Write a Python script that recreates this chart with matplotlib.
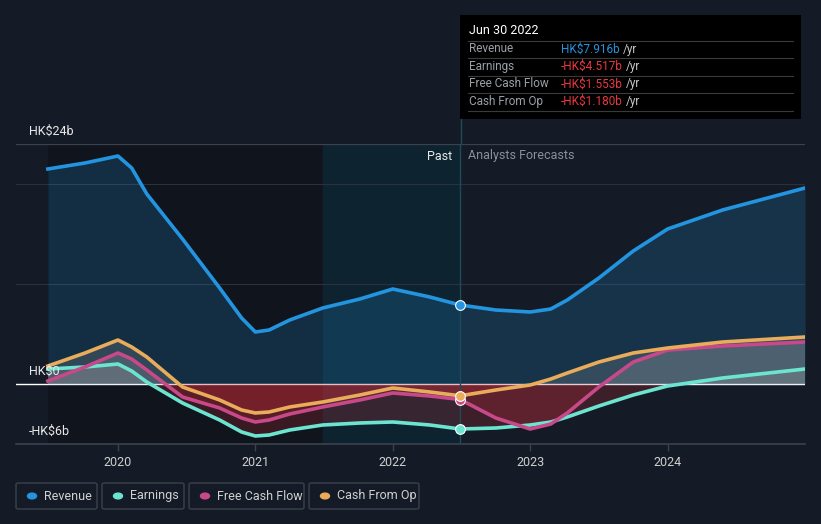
import matplotlib.pyplot as plt
from matplotlib.patches import Rectangle, FancyBboxPatch, Circle
from matplotlib.lines import Line2D

plt.rcParams['font.family'] = ['Roboto', 'DejaVu Sans']

W, H = 821, 524

years = [2019.49, 2019.76, 2020.0, 2020.1, 2020.21, 2020.47, 2020.74, 2020.9, 2021.0, 2021.1,
         2021.25, 2021.49, 2021.76, 2022.0, 2022.27, 2022.49, 2022.75, 2023.0, 2023.15,
         2023.27, 2023.5, 2023.75, 2024.0, 2024.4, 2025.0]
revenue = [21.5, 22.1, 22.8, 21.6, 19.0, 14.5, 9.6, 6.6, 5.2, 5.4,
           6.4, 7.6, 8.5, 9.5, 8.7, 7.9, 7.4, 7.2, 7.5,
           8.4, 10.6, 13.3, 15.5, 17.4, 19.6]
earnings = [1.5, 1.7, 2.0, 1.3, 0.2, -1.9, -3.6, -4.8, -5.2, -5.1,
            -4.6, -4.1, -3.9, -3.8, -4.1, -4.5, -4.4, -4.1, -3.8,
            -3.3, -2.2, -1.1, -0.2, 0.6, 1.5]
fcf = [0.3, 1.7, 3.1, 2.5, 1.4, -1.3, -2.4, -3.4, -3.8, -3.6,
       -3.0, -2.3, -1.6, -0.9, -1.2, -1.55, -3.4, -4.5, -4.0,
       -2.9, -0.3, 2.2, 3.4, 3.8, 4.2]
cfo = [1.8, 3.1, 4.4, 3.7, 2.7, -0.3, -1.6, -2.6, -2.9, -2.8,
       -2.3, -1.8, -1.1, -0.4, -0.8, -1.18, -0.6, -0.1, 0.5,
       1.1, 2.2, 3.1, 3.6, 4.2, 4.7]

now = 2022.49
now_vals = {'rev': 7.916, 'earn': -4.517, 'fcf': -1.553, 'cfo': -1.180}

c_rev = '#2394df'
c_earn = '#6ce5d0'
c_fcf = '#c7498a'
c_cfo = '#e8ac5b'
bg = '#151b26'

fig = plt.figure(figsize=(W / 100, H / 100), dpi=100, facecolor=bg)
ax = fig.add_axes([16 / W, 80 / H, 789 / W, 300 / H], facecolor=bg)
ax.set_xlim(2019.258, 2025.0)
ax.set_ylim(-6, 24)

# background regions
ax.axvspan(years[0], 2021.49, color='#10141c', zorder=0)
ax.axvspan(2021.49, now, color='#0d2430', zorder=0)

for g in [20, 10]:
    ax.axhline(g, color='#2a313d', lw=0.8, zorder=1)
ax.axhline(24, color='#3b424d', lw=0.9, zorder=1)
ax.axhline(0, color='#ffffff', lw=1.0, zorder=2)

# fills
ax.fill_between(years, revenue, 0, color=c_rev, alpha=0.2, lw=0, zorder=2)
for s in [earnings, fcf, cfo]:
    ax.fill_between(years, s, 0, where=[v >= 0 for v in s], interpolate=True,
                    color='#e8e0d8', alpha=0.14, lw=0, zorder=2)
    ax.fill_between(years, s, 0, where=[v < 0 for v in s], interpolate=True,
                    color='#e0303c', alpha=0.2, lw=0, zorder=2)

ax.plot(years, revenue, color=c_rev, lw=2.6, zorder=4, solid_joinstyle='round')
ax.plot(years, earnings, color=c_earn, lw=2.6, zorder=4, solid_joinstyle='round')
ax.plot(years, fcf, color=c_fcf, lw=2.6, zorder=4, solid_joinstyle='round')
ax.plot(years, cfo, color=c_cfo, lw=2.6, zorder=4, solid_joinstyle='round')

for v, c in [(now_vals['rev'], c_rev), (now_vals['earn'], c_earn),
             (now_vals['fcf'], c_fcf), (now_vals['cfo'], c_cfo)]:
    ax.plot([now], [v], 'o', ms=7, color=c, mec='white', mew=0.8, zorder=5)

ax.axvline(now, color='#1f4a5a', lw=1, zorder=3)

for sp in ['top', 'right', 'left']:
    ax.spines[sp].set_visible(False)
ax.spines['bottom'].set_color('#3b424d')
ax.spines['bottom'].set_linewidth(1.2)
ax.set_yticks([])
ax.set_xticks([2020, 2021, 2022, 2023, 2024])
ax.set_xticklabels(['2020', '2021', '2022', '2023', '2024'])
ax.tick_params(axis='x', colors='#3b424d', labelcolor='#d0d0d0', labelsize=9,
               length=5, width=1, pad=4)

ax.text(2019.35, 24.6, 'HK$24b', color='#e8e8e8', fontsize=9, va='bottom', zorder=6)
ax.text(2019.35, 0.6, 'HK$0', color='#e8e8e8', fontsize=9, va='bottom', zorder=6)
ax.text(2019.35, -5.4, '-HK$6b', color='#e8e8e8', fontsize=9, va='bottom', zorder=6)
ax.text(now - 0.06, 22.8, 'Past', color='#e8e8e8', fontsize=9, ha='right', va='center')
ax.text(now + 0.06, 22.8, 'Analysts Forecasts', color='#8a8f98', fontsize=9, ha='left', va='center')


def fx(x):
    return x / W


def fy(y):
    return 1 - y / H


# connector line above plot
fig.add_artist(Line2D([fx(461), fx(461)], [fy(119), fy(144)], color='#1f4a5a', lw=1))

# tooltip
fig.add_artist(Rectangle((fx(460), fy(119)), 341 / W, 104 / H, facecolor='#000000',
                         edgecolor='none', transform=fig.transFigure))
fig.text(fx(469), fy(31), 'Jun 30 2022', color='white', fontsize=9, va='center')
rows = [('Revenue', 'HK$7.916b', c_rev), ('Earnings', '-HK$4.517b', '#e8383f'),
        ('Free Cash Flow', '-HK$1.553b', '#e8383f'), ('Cash From Op', '-HK$1.180b', '#e8383f')]
for i, (lab, val, col) in enumerate(rows):
    yy = 49 + i * 17.5
    fig.add_artist(Line2D([fx(468), fx(793)], [fy(yy - 8.5), fy(yy - 8.5)], color='#3a3a3a', lw=0.8))
    fig.text(fx(469), fy(yy), lab, color='#9aa0a6', fontsize=8.5, va='center')
    t = fig.text(fx(561), fy(yy), val, color=col, fontsize=8.5, va='center')
    fig.canvas.draw()
    bb = t.get_window_extent()
    fig.text(bb.x1 / W + 3 / W, fy(yy), '/yr', color='#c8c8c8', fontsize=8.5, va='center')
fig.add_artist(Line2D([fx(468), fx(793)], [fy(111), fy(111)], color='#3a3a3a', lw=0.8))

# legend
legend = [('Revenue', c_rev, 16, 81), ('Earnings', c_earn, 102, 82),
          ('Free Cash Flow', c_fcf, 189, 115), ('Cash From Op', c_cfo, 309, 110)]
for lab, col, x0, w in legend:
    fig.add_artist(FancyBboxPatch((fx(x0), fy(509)), w / W, 26 / H,
                                  boxstyle='round,pad=0,rounding_size=0.003',
                                  facecolor='none', edgecolor='#3b424d', lw=1,
                                  transform=fig.transFigure))
    fig.add_artist(Circle((fx(x0 + 16), fy(496)), 4.5 / W, color=col, transform=fig.transFigure))
    fig.text(fx(x0 + 28), fy(496), lab, color='#d0d0d0', fontsize=9, va='center')

fig.savefig('out.png', dpi=100, facecolor=bg)
